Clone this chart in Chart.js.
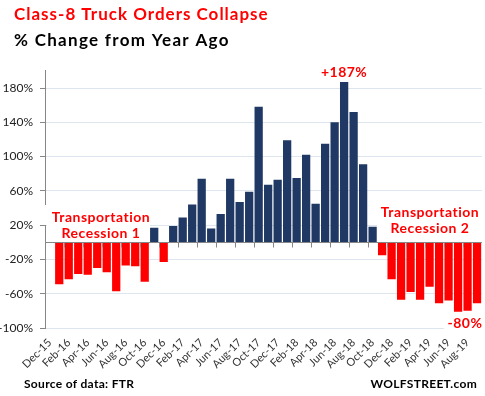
<!DOCTYPE html>
<html>
<head>
<meta charset="utf-8">
<script src="https://cdn.jsdelivr.net/npm/chart.js@4.4.0/dist/chart.umd.min.js"></script>
<style>
  html, body { margin: 0; padding: 0; background: #fff; }
</style>
</head>
<body>
<canvas id="chart" width="485" height="396"></canvas>
<script>
// year-over-year % change in class-8 truck orders (source: FTR)
const months = [
  'Dec-15', 'Jan-16', 'Feb-16', 'Mar-16', 'Apr-16', 'May-16', 'Jun-16', 'Jul-16', 'Aug-16', 'Sep-16', 'Oct-16', 'Nov-16',
  'Dec-16', 'Jan-17', 'Feb-17', 'Mar-17', 'Apr-17', 'May-17', 'Jun-17', 'Jul-17', 'Aug-17', 'Sep-17', 'Oct-17', 'Nov-17',
  'Dec-17', 'Jan-18', 'Feb-18', 'Mar-18', 'Apr-18', 'May-18', 'Jun-18', 'Jul-18', 'Aug-18', 'Sep-18', 'Oct-18', 'Nov-18',
  'Dec-18', 'Jan-19', 'Feb-19', 'Mar-19', 'Apr-19', 'May-19', 'Jun-19', 'Jul-19', 'Aug-19', 'Sep-19'
];
const changes = [
  null, -49, -43, -37, -38, -30, -35, -57, -27, -28, -46, 17,
  -23, 19, 29, 44, 74, 16, 33, 74, 47, 59, 158, 67,
  73, 119, 75, 102, 45, 115, 140, 187, 152, 91, 18, -15,
  -43, -67, -58, -67, -52, -71, -68, -81, -80, -71
];
const yTicks = [-100, -60, -20, 20, 60, 100, 140, 180];

const RED = '#ff0000';
const NAVY = '#1f3864';
const AXIS = '#868686';
const FONT = 'Lato';

const extras = {
  id: 'extras',
  beforeDatasetsDraw(chart) {
    // white backing behind the annotations hides the gridlines, not the bars
    const ctx = chart.ctx;
    ctx.save();
    ctx.fillStyle = '#fff';
    ctx.fillRect(44, 205, 106, 20);
    ctx.fillRect(47, 225, 103, 16);
    ctx.fillRect(377, 202, 105, 37);
    ctx.fillRect(444, 315, 38, 15);
    ctx.restore();
  },
  afterDatasetsDraw(chart) {
    const ctx = chart.ctx;
    const x = chart.scales.x, y = chart.scales.y;
    const area = chart.chartArea;
    const y0 = Math.round(y.getPixelForValue(0)) + 0.5;
    const step = x.getPixelForValue(1) - x.getPixelForValue(0);
    ctx.save();
    ctx.strokeStyle = AXIS;
    ctx.lineWidth = 1;
    ctx.beginPath();
    ctx.moveTo(area.left, y0);
    ctx.lineTo(area.right, y0);
    // tick marks between every second month, on the zero line
    for (let i = 2; i < months.length; i += 2) {
      const bx = Math.round(x.getPixelForValue(i) - step / 2) + 0.5;
      ctx.moveTo(bx, y0);
      ctx.lineTo(bx, y0 + 5);
    }
    ctx.stroke();
    ctx.restore();
  },
  afterDraw(chart) {
    const ctx = chart.ctx;
    const x = chart.scales.x, y = chart.scales.y;
    ctx.save();
    ctx.textBaseline = 'alphabetic';

    ctx.font = 'bold 17px ' + FONT;
    ctx.textAlign = 'left';
    ctx.letterSpacing = '1px';
    ctx.fillStyle = RED;
    ctx.fillText('Class-8 Truck Orders Collapse', 14, 20);
    ctx.letterSpacing = '1.3px';
    ctx.fillStyle = '#000';
    ctx.fillText('% Change from Year Ago', 14, 46);

    ctx.font = 'bold 14px ' + FONT;
    ctx.letterSpacing = '0.5px';
    ctx.textAlign = 'center';
    ctx.fillStyle = RED;
    ctx.fillText('Transportation', 101, 221.5);
    ctx.fillText('Recession 1', 101, 238);
    ctx.fillText('Transportation', 430, 216.5);
    ctx.fillText('Recession 2', 430, 233);

    const iMax = changes.indexOf(Math.max(...changes.filter(v => v !== null)));
    ctx.fillText('+' + changes[iMax] + '%', x.getPixelForValue(iMax), y.getPixelForValue(changes[iMax]) - 5);
    ctx.fillText('-80%', 465, 327.5);

    ctx.font = 'bold 12px ' + FONT;
    ctx.letterSpacing = '0.3px';
    ctx.fillStyle = '#000';
    ctx.textAlign = 'left';
    ctx.fillText('Source of data: FTR', 24, 388);
    ctx.textAlign = 'right';
    ctx.fillText('WOLFSTREET.com', 477, 388);
    ctx.restore();
  }
};

const data = {
  labels: months,
  datasets: [{
    data: changes,
    backgroundColor: c => (c.raw < 0 ? RED : NAVY),
    barPercentage: 0.87,
    categoryPercentage: 1
  }]
};

const config = {
  type: 'bar',
  data: data,
  options: {
    responsive: false,
    animation: false,
    layout: { padding: { top: 70, right: 3, left: 0, bottom: 0 } },
    plugins: { legend: { display: false }, tooltip: { enabled: false } },
    scales: {
      x: {
        offset: true,
        grid: { display: false, drawTicks: false },
        border: { display: false },
        ticks: {
          autoSkip: false, minRotation: 45, maxRotation: 45, padding: 8,
          color: '#333', font: { family: FONT, size: 11 },
          callback: (v, i) => (i % 2 === 0 ? months[i] : null)
        },
        afterFit: s => { s.height = 68; }
      },
      y: {
        min: -100, max: 201,
        afterBuildTicks: s => { s.ticks = yTicks.map(v => ({ value: v })); },
        grid: { color: '#dde5ef', tickColor: AXIS, tickLength: 5 },
        border: { color: AXIS },
        ticks: {
          padding: 7, color: '#222', font: { family: FONT, size: 12 },
          callback: v => v + '%'
        },
        afterFit: s => { s.width = 45; }
      }
    }
  },
  plugins: [extras]
};

var ctx = document.getElementById('chart');
var myChart = new Chart(ctx, config);
</script>
</body>
</html>
